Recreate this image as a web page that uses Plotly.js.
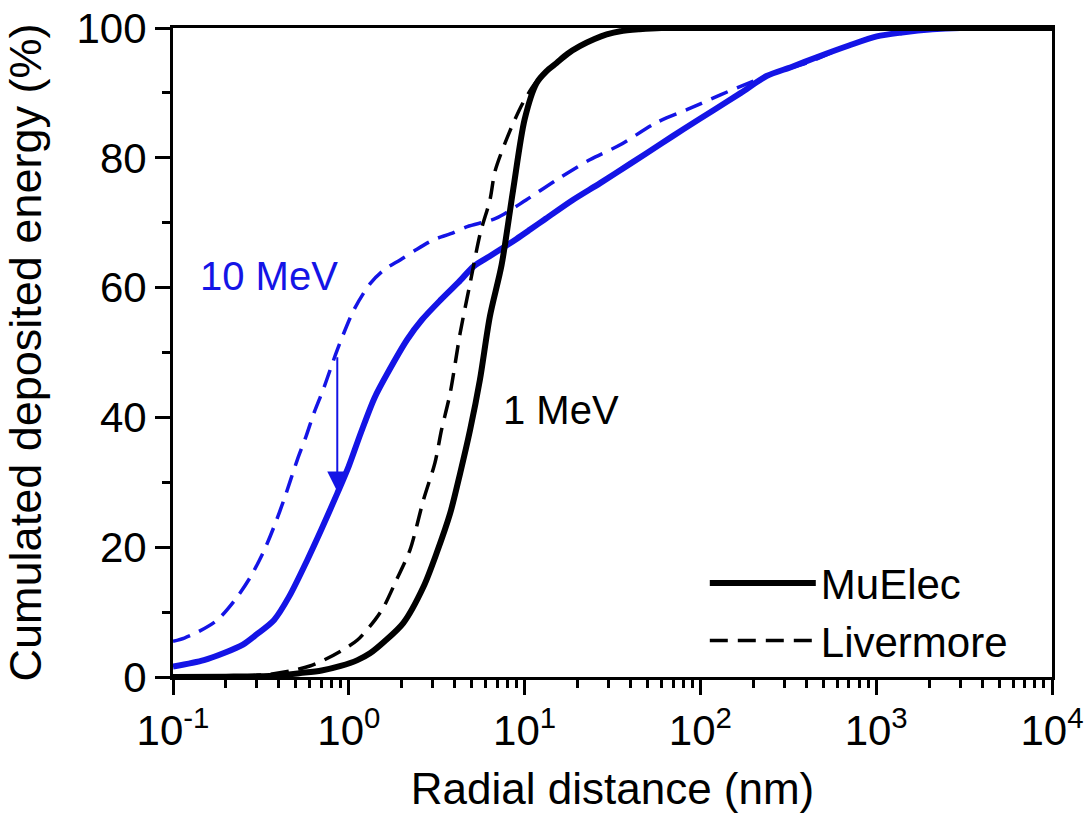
<!DOCTYPE html>
<html>
<head>
<meta charset="utf-8">
<script src="https://cdn.plot.ly/plotly-3.0.1.min.js"></script>
<style>
html,body{margin:0;padding:0;background:#fff;}
#chart{width:1086px;height:813px;}
</style>
</head>
<body>
<div id="chart"></div>
<script>
// ---- Data ----
// 1 MeV, MuElec (black solid)
var mu1_x = [0.1, 0.2, 0.3, 0.4, 0.53, 0.7, 0.9, 1.12, 1.32, 1.6, 2.04, 2.66, 3.16, 3.77, 4.3, 4.9, 5.57, 6.35, 7.4, 8.6, 10, 11.7, 13.3, 15.2, 17.5, 20.6, 25, 29.3, 35, 45, 60, 100, 1000, 10000];
var mu1_y = [0, 0.05, 0.1, 0.25, 0.6, 1.0, 1.7, 2.6, 3.65, 5.5, 8.3, 13.9, 19.1, 25.2, 31.4, 38.1, 45.8, 55.6, 63.5, 75, 85.9, 91.5, 93.3, 94.6, 96, 97.2, 98.3, 99, 99.5, 99.8, 100, 100, 100, 100];
// 1 MeV, Livermore (black dashed)
var liv1_x = [0.25, 0.35, 0.48, 0.6, 0.72, 0.9, 1.12, 1.41, 1.58, 1.87, 2.23, 2.66, 3.09, 3.37, 3.77, 4.3, 4.9, 5.6, 6.35, 6.8, 8.3, 9.8, 11.5, 13.3, 15.2, 20.6, 29.3, 45, 100, 1000, 10000];
var liv1_y = [0.1, 0.4, 1.0, 1.7, 2.6, 4.0, 5.7, 8.8, 10.8, 15, 19.6, 27.3, 33, 38.1, 43.7, 53, 60.7, 68.4, 73.5, 78, 84.3, 88.5, 91.5, 93.3, 94.6, 97.2, 99, 99.8, 100, 100, 100];
// 10 MeV, MuElec (blue solid)
var mu10_x = [0.1, 0.15, 0.195, 0.25, 0.3, 0.376, 0.46, 0.58, 0.7, 0.86, 1.0, 1.17, 1.4, 1.66, 2.15, 2.6, 3.33, 4.2, 5.15, 6.3, 7.5, 9, 10.7, 13, 18.8, 26.9, 40, 60, 80, 120, 170, 238, 330, 459, 700, 1007, 1400, 2090, 3000, 10000];
var mu10_y = [1.6, 2.6, 3.7, 5.0, 6.6, 8.8, 12.5, 18, 22.8, 28.3, 32.5, 37.6, 43, 46.8, 52, 55, 58.1, 60.8, 63.3, 64.8, 66.1, 67.5, 68.9, 70.5, 73.5, 76.1, 79.1, 82.2, 84.4, 87.4, 90.0, 92.6, 94.0, 95.5, 97.3, 98.7, 99.3, 99.8, 100, 100];
// 10 MeV, Livermore (blue dashed)
var liv10_x = [0.1, 0.116, 0.14, 0.179, 0.23, 0.277, 0.33, 0.376, 0.43, 0.51, 0.57, 0.634, 0.72, 0.86, 1.07, 1.33, 1.6, 1.97, 2.4, 3.05, 3.8, 4.72, 6.9, 10.2, 15, 23.5, 35, 56, 87, 130, 191, 270, 400, 700, 1007, 1400, 2090, 3000, 10000];
var liv10_y = [5.5, 6.0, 7.0, 8.8, 12.2, 15.5, 19.5, 23.2, 27.5, 33.5, 37, 40.7, 44.5, 50.4, 56.6, 60.7, 62.8, 64.3, 65.8, 67.4, 68.3, 69.4, 70.7, 73.5, 76.5, 79.7, 82, 85.4, 87.6, 89.7, 91.6, 93.2, 94.6, 97.3, 98.7, 99.3, 99.8, 100, 100];

var seriesNames = ['MuElec', 'Livermore'];
var xTickVals = [0.1, 1, 10, 100, 1000, 10000];
var xTickText = ['10<sup>-1</sup>', '10<sup>0</sup>', '10<sup>1</sup>', '10<sup>2</sup>', '10<sup>3</sup>', '10<sup>4</sup>'];
var yTickVals = [0, 20, 40, 60, 80, 100];
var xTitle = 'Radial distance (nm)';
var yTitle = 'Cumulated deposited energy (%)';
var labels = ['10 MeV', '1 MeV'];
var labelX = [0.35, 16.1];
var labelY = [61.8, 41.2];
var arrowX = 0.86;
var arrowFromY = 49.5;
var arrowToY = 28.6;

// ---- Styles ----
var BLUE = '#1414e6';
var FONT = 'Liberation Sans, Arial, Helvetica, sans-serif';
var SM = 0.8;

var traces = [
  {x: liv10_x, y: liv10_y, mode: 'lines', line: {color: BLUE, width: 3.5, dash: '18px,10px', shape: 'spline', smoothing: SM}, showlegend: false, hoverinfo: 'skip'},
  {x: mu10_x, y: mu10_y, mode: 'lines', line: {color: BLUE, width: 6, shape: 'spline', smoothing: SM}, showlegend: false, hoverinfo: 'skip'},
  {x: liv1_x, y: liv1_y, mode: 'lines', name: seriesNames[1], line: {color: '#000', width: 3.5, dash: '18px,10px', shape: 'spline', smoothing: SM}},
  {x: mu1_x, y: mu1_y, mode: 'lines', name: seriesNames[0], line: {color: '#000', width: 6, shape: 'spline', smoothing: SM}}
];

var layout = {
  width: 1086, height: 813,
  margin: {l: 173, r: 34, t: 28, b: 136},
  paper_bgcolor: '#fff', plot_bgcolor: '#fff',
  font: {family: FONT, color: '#000', size: 42},
  showlegend: true,
  legend: {
    x: 0.605, y: 0.197, xanchor: 'left', yanchor: 'top',
    bgcolor: 'rgba(0,0,0,0)', borderwidth: 0,
    font: {family: FONT, size: 42, color: '#000'},
    itemwidth: 106, traceorder: 'reversed', tracegroupgap: 0
  },
  xaxis: {
    type: 'log', range: [-1, 4],
    tickvals: xTickVals, ticktext: xTickText,
    ticks: 'outside', ticklen: 15, tickwidth: 3, tickcolor: '#000',
    minor: {ticks: 'outside', ticklen: 8, tickwidth: 3, tickcolor: '#000', dtick: 'D1', showgrid: false},
    showline: true, linewidth: 3, linecolor: '#000', mirror: true,
    showgrid: false, zeroline: false,
    tickfont: {family: FONT, size: 42, color: '#000'},
    title: {text: xTitle, font: {family: FONT, size: 44, color: '#000'}, standoff: 36}
  },
  yaxis: {
    range: [0, 100],
    tickvals: yTickVals,
    ticks: 'outside', ticklen: 15, tickwidth: 3, tickcolor: '#000',
    minor: {ticks: 'outside', ticklen: 8, tickwidth: 3, tickcolor: '#000', dtick: 10, showgrid: false},
    showline: true, linewidth: 3, linecolor: '#000', mirror: true,
    showgrid: false, zeroline: false,
    tickfont: {family: FONT, size: 42, color: '#000'},
    title: {text: yTitle, font: {family: FONT, size: 45, color: '#000'}, standoff: 28}
  },
  annotations: [
    {x: Math.log10(labelX[0]), y: labelY[0], xref: 'x', yref: 'y', text: labels[0], showarrow: false,
     font: {family: FONT, size: 40, color: BLUE}},
    {x: Math.log10(labelX[1]), y: labelY[1], xref: 'x', yref: 'y', text: labels[1], showarrow: false,
     font: {family: FONT, size: 40, color: '#000'}},
    {x: Math.log10(arrowX), y: arrowToY, xref: 'x', yref: 'y',
     ax: Math.log10(arrowX), ay: arrowFromY, axref: 'x', ayref: 'y',
     text: '', showarrow: true, arrowhead: 2, arrowsize: 2, arrowwidth: 2, arrowcolor: BLUE, standoff: 0}
  ]
};

Plotly.newPlot('chart', traces, layout, {staticPlot: true, displayModeBar: false});
</script>
</body>
</html>
